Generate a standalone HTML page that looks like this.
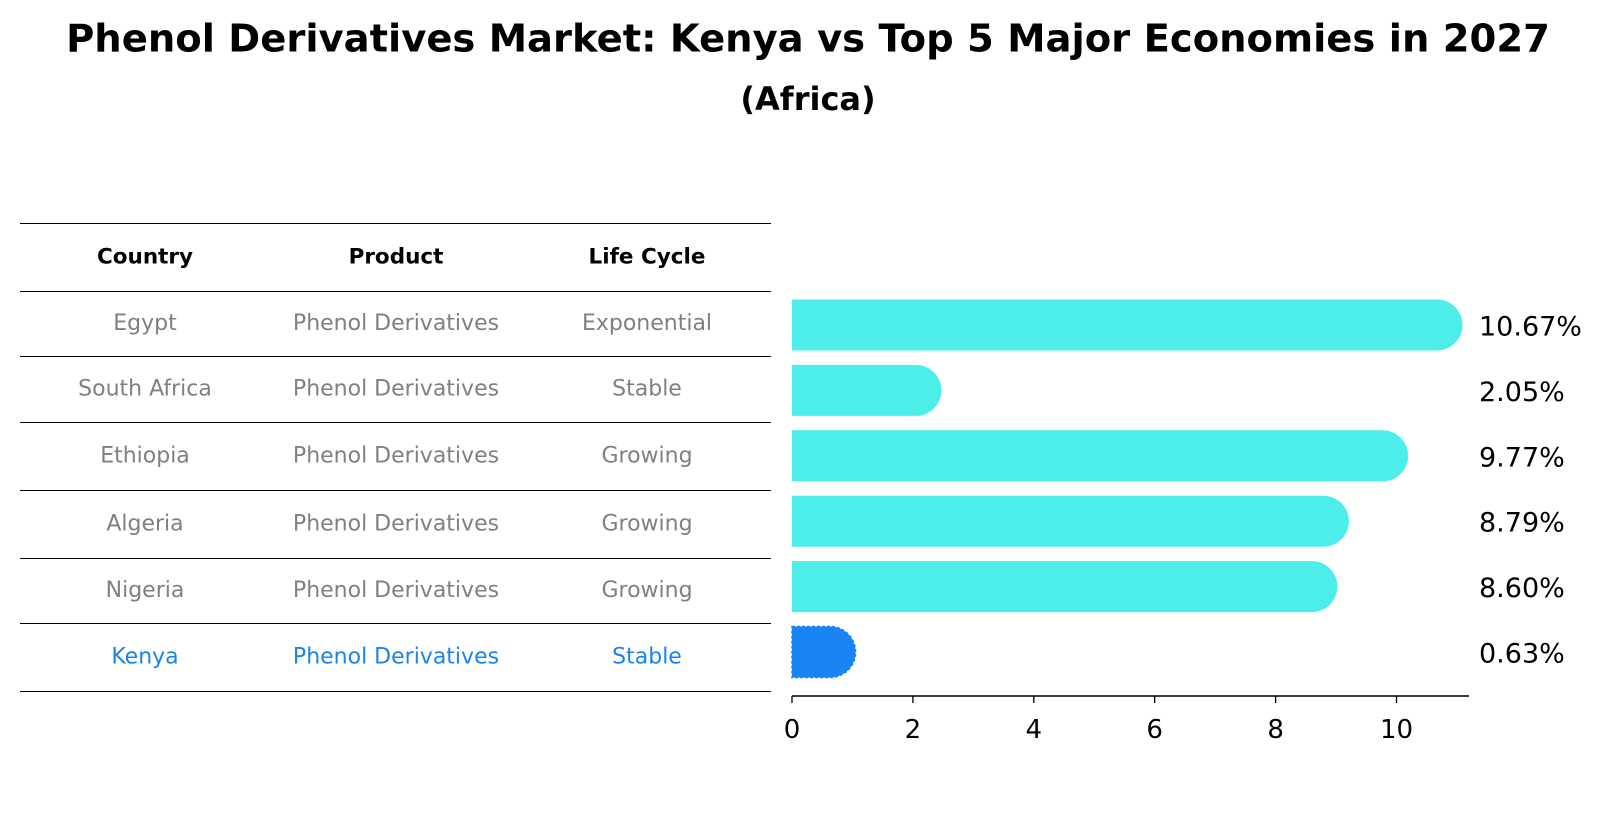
<!DOCTYPE html>
<html><head><meta charset="utf-8"><style>
body{margin:0;background:#fff;font-family:"Liberation Sans","DejaVu Sans",sans-serif;}
#wrap{position:relative;width:1604px;height:823px;overflow:hidden;}
.t{position:absolute;white-space:nowrap;transform:translate(-50%,-50%);}
</style></head><body>
<div id="wrap">
<div class="t" style="left:808px;top:39px;font-size:38.5px;font-weight:bold;font-family:'DejaVu Sans',sans-serif;">Phenol Derivatives Market: Kenya vs Top 5 Major Economies in 2027</div>
<div class="t" style="left:808px;top:99px;font-size:32px;font-weight:bold;font-family:'DejaVu Sans',sans-serif;">(Africa)</div>
<svg id="svg" width="1604" height="823" style="position:absolute;left:0;top:0"></svg>
</div>
<script>
const countries=["Egypt","South Africa","Ethiopia","Algeria","Nigeria","Kenya"];
const products=["Phenol Derivatives","Phenol Derivatives","Phenol Derivatives","Phenol Derivatives","Phenol Derivatives","Phenol Derivatives"];
const lifeCycles=["Exponential","Stable","Growing","Growing","Growing","Stable"];
const values=[10.67,2.05,9.77,8.79,8.60,0.63];
const ticks=[0,2,4,6,8,10];
const NS="http://www.w3.org/2000/svg";
const svg=document.getElementById('svg');
function mk(tag,attrs,parent){const e=document.createElementNS(NS,tag);for(const k in attrs)e.setAttribute(k,attrs[k]);(parent||svg).appendChild(e);return e;}
const x0=792,pxu=60.45;
function xs(v){return x0+v*pxu;}
function yc(i){return 325+i*65.4;}
const rows=[223,291,356,422,490,558,623,691];
rows.forEach((y,i)=>{const l=mk('line',{x1:20,x2:771,y1:y+0.5,y2:y+0.5,stroke:'#000','stroke-width':1});

});
const cols=[145,396,647];
["Country","Product","Life Cycle"].forEach((h,j)=>{const t=mk('text',{x:cols[j],y:257,'text-anchor':'middle','dominant-baseline':'central','font-size':21.5,'font-weight':'bold','font-family':'DejaVu Sans,sans-serif'});t.textContent=h;

});
countries.forEach((c,i)=>{const y=(rows[i+1]+rows[i+2])/2;const col=i===countries.length-1?'#1a84e8':'#808080';
[c,products[i],lifeCycles[i]].forEach((v,j)=>{const t=mk('text',{x:cols[j],y:y,'text-anchor':'middle','dominant-baseline':'central','font-size':22,fill:col,'font-family':'DejaVu Sans,sans-serif'});t.textContent=v;

});});
const h=51,r=25.5;
values.forEach((v,i)=>{const y=yc(i),xe=xs(v);const last=i===values.length-1;const col=last?'#1a84f5':'#4deeea';
const p=mk('path',{d:`M${x0},${y-h/2}L${xe},${y-h/2}A${r},${r} 0 0 1 ${xe},${y+h/2}L${x0},${y+h/2}Z`,fill:col});
if(last){p.setAttribute('stroke','#1a84f5');p.setAttribute('stroke-dasharray','3,2');p.setAttribute('stroke-width','1.5');}


const t=mk('text',{x:1479,y:y+2,'dominant-baseline':'central','font-size':27,'font-family':'DejaVu Sans,sans-serif'});t.textContent=v.toFixed(2)+'%';

});
const ax=mk('line',{x1:x0,x2:1469,y1:696,y2:696,stroke:'#000','stroke-width':1.5});


ticks.forEach(tv=>{const tk=mk('line',{x1:xs(tv),x2:xs(tv),y1:696,y2:703,stroke:'#000','stroke-width':1.3});


const t=mk('text',{x:xs(tv),y:730,'text-anchor':'middle','dominant-baseline':'central','font-size':26,'font-family':'DejaVu Sans,sans-serif'});t.textContent=tv;

});
</script>
</body></html>
